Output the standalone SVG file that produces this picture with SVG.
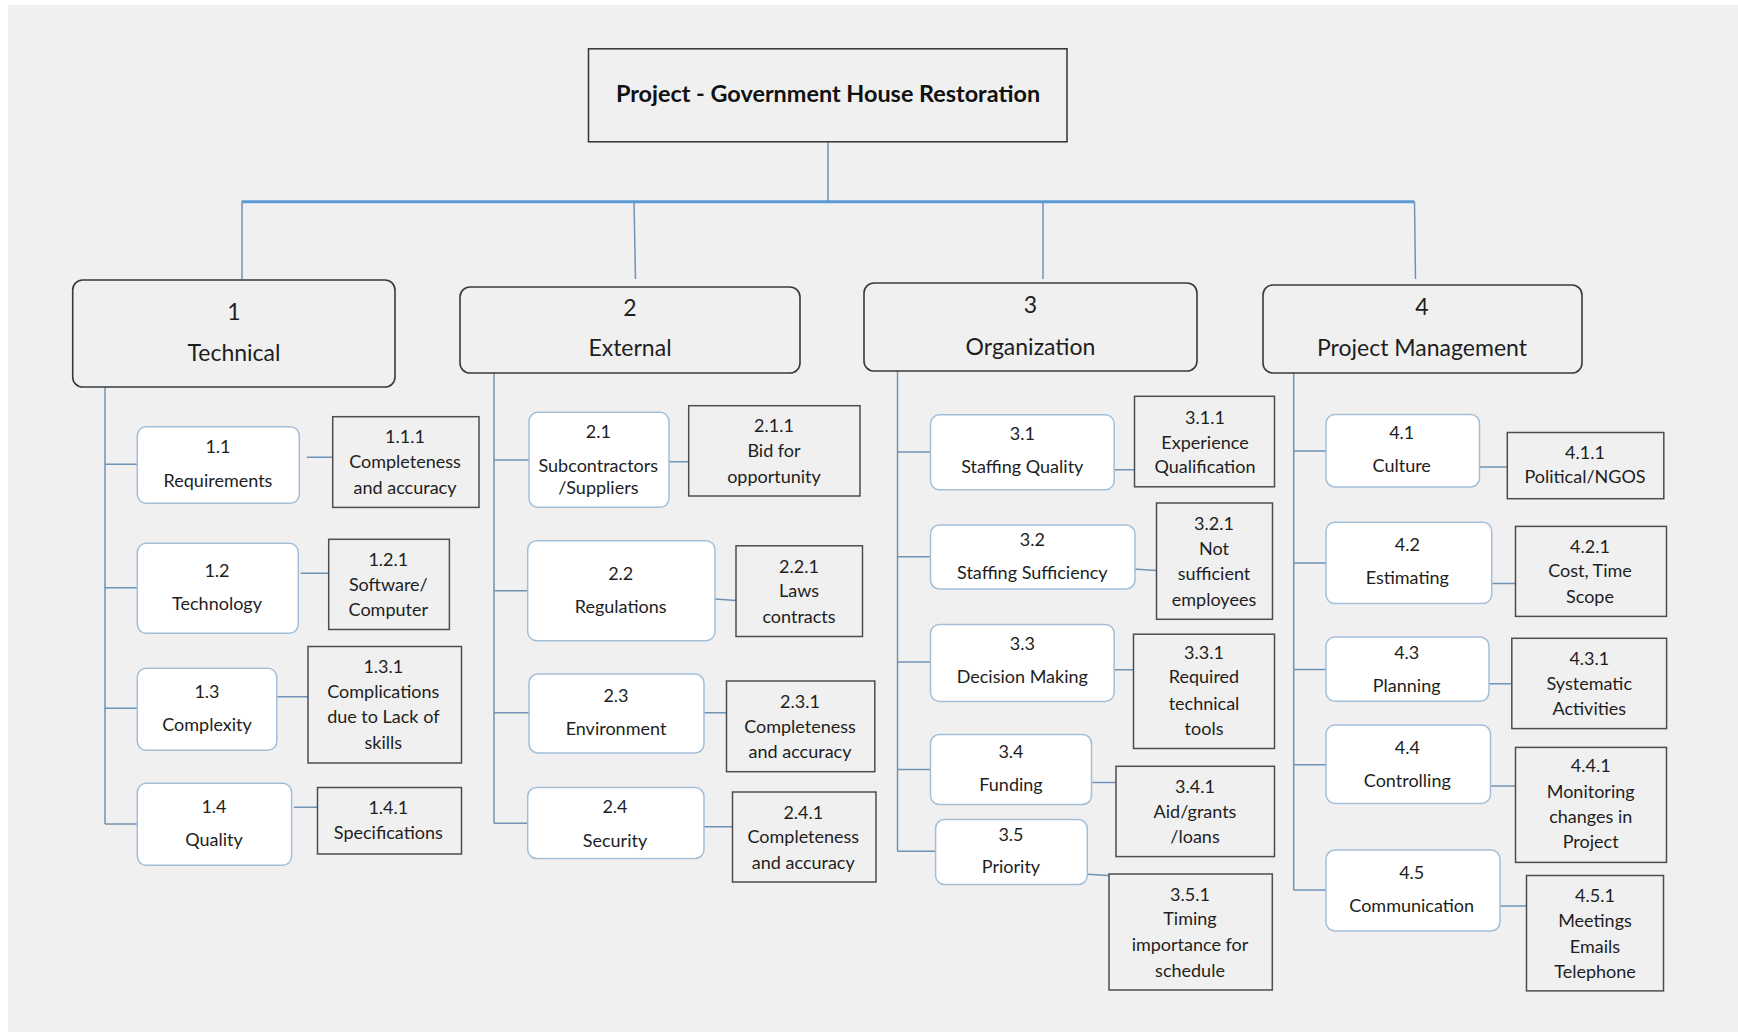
<svg xmlns="http://www.w3.org/2000/svg" width="1738" height="1034" viewBox="0 0 1738 1034">
  <style>
    .sheet { fill: #f0f0f0; }
    .root { fill: #f0f0f0; stroke: #333333; stroke-width: 1.5; }
    .l1 { fill: #f0f0f0; stroke: #3a3a3a; stroke-width: 1.6; }
    .l2 { fill: #ffffff; stroke: #a3bfd8; stroke-width: 1.5; }
    .l3 { fill: #f0f0f0; stroke: #4d4d4d; stroke-width: 1.5; }
    .conn { fill: none; stroke: #6f93b4; stroke-width: 1.5; }
    .bus { fill: none; stroke: #5b9bd5; stroke-width: 3; }
    text { font-family: Lato, "Liberation Sans", sans-serif; fill: #1e1e1e; text-anchor: middle; }
    .title { font-size: 23.4px; font-weight: bold; fill: #111111; }
    .t1 { font-size: 23px; }
    .t2 { font-size: 18px; }
    .t3 { font-size: 18px; }
  </style>

  <rect class="sheet" x="8" y="5" width="1730" height="1027"/>

  <!-- connectors -->
  <g id="connectors">
    <path class="conn" d="M828,142 V201.7"/>
    <path class="bus" d="M241.6,201.7 H1414.5"/>
    <path class="conn" d="M242,201.7 V279"/>
    <path class="conn" d="M634,201.7 L635.5,279"/>
    <path class="conn" d="M1043,201.7 V279"/>
    <path class="conn" d="M1414.5,201.7 L1415.5,279"/>

    <!-- Technical branch -->
    <path class="conn" d="M105,387 V824 M105,464.3 H137.3 M105,587.7 H137.3 M105,708.3 H137.3 M105,824 H137.3"/>
    <path class="conn" d="M306.7,457.3 H333 M300.7,573.3 H328.7 M276.7,696.7 H308 M294,807.3 H317.5"/>

    <!-- External branch -->
    <path class="conn" d="M494,373 V823.3 M494,460 H529 M494,590.7 H527.7 M494,712.7 H529 M494,823.3 H527.7"/>
    <path class="conn" d="M662.7,461.7 H688.7 M715,599 L736,600.5 M704,712.7 H726.5 M704,826.7 H732.5"/>

    <!-- Organization branch -->
    <path class="conn" d="M897.5,371 V851.3 M897.5,452 H930.5 M897.5,556.7 H930.5 M897.5,661.9 H930.5 M897.5,769.5 H930.5 M897.5,851.3 H935.6"/>
    <path class="conn" d="M1115,469.8 H1134.5 M1133.3,569 L1156.5,570.5 M1110,669.8 H1133.5 M1092.3,782.5 H1116 M1087.3,874.3 L1109,875.5"/>

    <!-- Project Management branch -->
    <path class="conn" d="M1293.7,373 V890 M1293.7,451 H1326 M1293.7,563 H1326 M1293.7,669.5 H1326 M1293.7,764.8 H1326 M1293.7,890 H1326"/>
    <path class="conn" d="M1480,467 H1507.3 M1492.3,583.6 H1515.5 M1489,683.7 H1511.8 M1490.7,786.1 H1515.5 M1500,905.9 H1526.5"/>
  </g>

  <!-- root -->
  <g id="root">
    <rect class="root" x="588.5" y="48.8" width="478.5" height="93"/>
    <text class="title" x="828" y="102.4">Project - Government House Restoration</text>
  </g>

  <!-- level 1 -->
  <g id="n1">
    <rect class="l1" x="72.7" y="280" width="322.3" height="107" rx="10"/>
    <text class="t1" x="234" y="320.3">1</text>
    <text class="t1" x="234" y="361.3">Technical</text>
  </g>
  <g id="n2">
    <rect class="l1" x="460" y="287" width="340" height="86" rx="10"/>
    <text class="t1" x="630" y="316.3">2</text>
    <text class="t1" x="630" y="356.3">External</text>
  </g>
  <g id="n3">
    <rect class="l1" x="864" y="283" width="333" height="88" rx="10"/>
    <text class="t1" x="1030.5" y="313.3">3</text>
    <text class="t1" x="1030.5" y="355.3">Organization</text>
  </g>
  <g id="n4">
    <rect class="l1" x="1263" y="285" width="319" height="88" rx="10"/>
    <text class="t1" x="1422" y="315.3">4</text>
    <text class="t1" x="1422" y="356.3">Project Management</text>
  </g>

  <!-- level 2: Technical -->
  <g id="n1-1">
    <rect class="l2" x="137.3" y="426.7" width="162" height="76.6" rx="9"/>
    <text class="t2" x="218" y="453.2">1.1</text>
    <text class="t2" x="218" y="486.5">Requirements</text>
  </g>
  <g id="n1-2">
    <rect class="l2" x="137.3" y="543.3" width="161" height="90" rx="9"/>
    <text class="t2" x="217" y="577.2">1.2</text>
    <text class="t2" x="217" y="609.8">Technology</text>
  </g>
  <g id="n1-3">
    <rect class="l2" x="137.3" y="668.3" width="139.5" height="82" rx="9"/>
    <text class="t2" x="207" y="698.2">1.3</text>
    <text class="t2" x="207" y="730.5">Complexity</text>
  </g>
  <g id="n1-4">
    <rect class="l2" x="137.3" y="783.3" width="154.3" height="82" rx="9"/>
    <text class="t2" x="214" y="812.5">1.4</text>
    <text class="t2" x="214" y="845.8">Quality</text>
  </g>

  <!-- level 2: External -->
  <g id="n2-1">
    <rect class="l2" x="529" y="412.3" width="140" height="95" rx="9"/>
    <text class="t2" x="598.3" y="438.2">2.1</text>
    <text class="t2" x="598.3" y="471.5">Subcontractors</text>
    <text class="t2" x="598.3" y="493.8">/Suppliers</text>
  </g>
  <g id="n2-2">
    <rect class="l2" x="527.7" y="540.7" width="187.3" height="100" rx="9"/>
    <text class="t2" x="620.7" y="579.8">2.2</text>
    <text class="t2" x="620.7" y="613.2">Regulations</text>
  </g>
  <g id="n2-3">
    <rect class="l2" x="529" y="674" width="175" height="79" rx="9"/>
    <text class="t2" x="616" y="701.5">2.3</text>
    <text class="t2" x="616" y="734.8">Environment</text>
  </g>
  <g id="n2-4">
    <rect class="l2" x="527.7" y="787.5" width="176.3" height="71" rx="9"/>
    <text class="t2" x="615" y="813.2">2.4</text>
    <text class="t2" x="615" y="846.5">Security</text>
  </g>

  <!-- level 2: Organization -->
  <g id="n3-1">
    <rect class="l2" x="930.5" y="414.8" width="183.7" height="75" rx="9"/>
    <text class="t2" x="1022.3" y="439.9">3.1</text>
    <text class="t2" x="1022.3" y="472.7">Staffing Quality</text>
  </g>
  <g id="n3-2">
    <rect class="l2" x="930.5" y="525" width="204.5" height="64" rx="9"/>
    <text class="t2" x="1032.3" y="545.9">3.2</text>
    <text class="t2" x="1032.3" y="579.1">Staffing Sufficiency</text>
  </g>
  <g id="n3-3">
    <rect class="l2" x="930.5" y="624.4" width="183.7" height="77" rx="9"/>
    <text class="t2" x="1022.3" y="649.5">3.3</text>
    <text class="t2" x="1022.3" y="683.1">Decision Making</text>
  </g>
  <g id="n3-4">
    <rect class="l2" x="930.5" y="734.5" width="161" height="70" rx="9"/>
    <text class="t2" x="1011" y="758.2">3.4</text>
    <text class="t2" x="1011" y="790.6">Funding</text>
  </g>
  <g id="n3-5">
    <rect class="l2" x="935.6" y="819.5" width="151.7" height="65" rx="9"/>
    <text class="t2" x="1011" y="840.5">3.5</text>
    <text class="t2" x="1011" y="872.9">Priority</text>
  </g>

  <!-- level 2: Project Management -->
  <g id="n4-1">
    <rect class="l2" x="1326" y="414.4" width="153.5" height="72.6" rx="9"/>
    <text class="t2" x="1401.7" y="439.1">4.1</text>
    <text class="t2" x="1401.7" y="471.5">Culture</text>
  </g>
  <g id="n4-2">
    <rect class="l2" x="1326" y="522.2" width="165.7" height="81.4" rx="9"/>
    <text class="t2" x="1407.3" y="550.6">4.2</text>
    <text class="t2" x="1407.3" y="584.2">Estimating</text>
  </g>
  <g id="n4-3">
    <rect class="l2" x="1326" y="637" width="163" height="64.3" rx="9"/>
    <text class="t2" x="1406.7" y="658.5">4.3</text>
    <text class="t2" x="1406.7" y="691.8">Planning</text>
  </g>
  <g id="n4-4">
    <rect class="l2" x="1326" y="725" width="164.5" height="78.4" rx="9"/>
    <text class="t2" x="1407.3" y="754.2">4.4</text>
    <text class="t2" x="1407.3" y="787.1">Controlling</text>
  </g>
  <g id="n4-5">
    <rect class="l2" x="1326" y="850" width="174" height="81" rx="9"/>
    <text class="t2" x="1411.7" y="878.8">4.5</text>
    <text class="t2" x="1411.7" y="911.6">Communication</text>
  </g>

  <!-- level 3: Technical -->
  <g id="n1-1-1">
    <rect class="l3" x="332.7" y="416.7" width="146.3" height="90.7"/>
    <text class="t3" x="405" y="443.2">1.1.1</text>
    <text class="t3" x="405" y="468.2">Completeness</text>
    <text class="t3" x="405" y="493.8">and accuracy</text>
  </g>
  <g id="n1-2-1">
    <rect class="l3" x="328.7" y="539.3" width="120.7" height="90.2"/>
    <text class="t3" x="388.3" y="565.8">1.2.1</text>
    <text class="t3" x="388.3" y="590.5">Software/</text>
    <text class="t3" x="388.3" y="615.8">Computer</text>
  </g>
  <g id="n1-3-1">
    <rect class="l3" x="308" y="646.5" width="153.5" height="116.5"/>
    <text class="t3" x="383.3" y="673.2">1.3.1</text>
    <text class="t3" x="383.3" y="698.2">Complications</text>
    <text class="t3" x="383.3" y="723.2">due to Lack of</text>
    <text class="t3" x="383.3" y="749.2">skills</text>
  </g>
  <g id="n1-4-1">
    <rect class="l3" x="317.5" y="787.5" width="144" height="66.5"/>
    <text class="t3" x="388.3" y="813.8">1.4.1</text>
    <text class="t3" x="388.3" y="838.8">Specifications</text>
  </g>

  <!-- level 3: External -->
  <g id="n2-1-1">
    <rect class="l3" x="688.7" y="405.7" width="171.3" height="90.3"/>
    <text class="t3" x="774" y="432.2">2.1.1</text>
    <text class="t3" x="774" y="456.5">Bid for</text>
    <text class="t3" x="774" y="483.2">opportunity</text>
  </g>
  <g id="n2-2-1">
    <rect class="l3" x="736" y="545.8" width="126.5" height="90.7"/>
    <text class="t3" x="799" y="573.2">2.2.1</text>
    <text class="t3" x="799" y="597.2">Laws</text>
    <text class="t3" x="799" y="623.2">contracts</text>
  </g>
  <g id="n2-3-1">
    <rect class="l3" x="726.5" y="681" width="148.3" height="90.7"/>
    <text class="t3" x="800" y="708.2">2.3.1</text>
    <text class="t3" x="800" y="733.2">Completeness</text>
    <text class="t3" x="800" y="758.2">and accuracy</text>
  </g>
  <g id="n2-4-1">
    <rect class="l3" x="732.5" y="792" width="143.5" height="90"/>
    <text class="t3" x="803.3" y="819.2">2.4.1</text>
    <text class="t3" x="803.3" y="843.2">Completeness</text>
    <text class="t3" x="803.3" y="868.8">and accuracy</text>
  </g>

  <!-- level 3: Organization -->
  <g id="n3-1-1">
    <rect class="l3" x="1134.5" y="396.3" width="140" height="90.5"/>
    <text class="t3" x="1205" y="424.1">3.1.1</text>
    <text class="t3" x="1205" y="448.5">Experience</text>
    <text class="t3" x="1205" y="472.7">Qualification</text>
  </g>
  <g id="n3-2-1">
    <rect class="l3" x="1156.5" y="503" width="116" height="116.3"/>
    <text class="t3" x="1214" y="529.6">3.2.1</text>
    <text class="t3" x="1214" y="554.5">Not</text>
    <text class="t3" x="1214" y="580.3">sufficient</text>
    <text class="t3" x="1214" y="606">employees</text>
  </g>
  <g id="n3-3-1">
    <rect class="l3" x="1133.5" y="634.2" width="141" height="114.3"/>
    <text class="t3" x="1204" y="659.3">3.3.1</text>
    <text class="t3" x="1204" y="683.1">Required</text>
    <text class="t3" x="1204" y="709.5">technical</text>
    <text class="t3" x="1204" y="734.5">tools</text>
  </g>
  <g id="n3-4-1">
    <rect class="l3" x="1116" y="766.3" width="158.5" height="90.3"/>
    <text class="t3" x="1195" y="792.6">3.4.1</text>
    <text class="t3" x="1195" y="817.5">Aid/grants</text>
    <text class="t3" x="1195" y="843.2">/loans</text>
  </g>
  <g id="n3-5-1">
    <rect class="l3" x="1109" y="874" width="163.3" height="116"/>
    <text class="t3" x="1190" y="900.5">3.5.1</text>
    <text class="t3" x="1190" y="925">Timing</text>
    <text class="t3" x="1190" y="950.7">importance for</text>
    <text class="t3" x="1190" y="976.5">schedule</text>
  </g>

  <!-- level 3: Project Management -->
  <g id="n4-1-1">
    <rect class="l3" x="1507.3" y="432.5" width="156.5" height="66.2"/>
    <text class="t3" x="1585" y="458.9">4.1.1</text>
    <text class="t3" x="1585" y="483.4">Political/NGOS</text>
  </g>
  <g id="n4-2-1">
    <rect class="l3" x="1515.5" y="526.4" width="151" height="90"/>
    <text class="t3" x="1590" y="552.6">4.2.1</text>
    <text class="t3" x="1590" y="577.1">Cost, Time</text>
    <text class="t3" x="1590" y="603.2">Scope</text>
  </g>
  <g id="n4-3-1">
    <rect class="l3" x="1511.8" y="638.3" width="154.8" height="90.3"/>
    <text class="t3" x="1589.3" y="665.3">4.3.1</text>
    <text class="t3" x="1589.3" y="689.8">Systematic</text>
    <text class="t3" x="1589.3" y="714.7">Activities</text>
  </g>
  <g id="n4-4-1">
    <rect class="l3" x="1515.5" y="747.4" width="151" height="115"/>
    <text class="t3" x="1590.7" y="772">4.4.1</text>
    <text class="t3" x="1590.7" y="797.7">Monitoring</text>
    <text class="t3" x="1590.7" y="823.4">changes in</text>
    <text class="t3" x="1590.7" y="848.3">Project</text>
  </g>
  <g id="n4-5-1">
    <rect class="l3" x="1526.5" y="875.5" width="137" height="115.4"/>
    <text class="t3" x="1595" y="901.7">4.5.1</text>
    <text class="t3" x="1595" y="927">Meetings</text>
    <text class="t3" x="1595" y="952.7">Emails</text>
    <text class="t3" x="1595" y="977.6">Telephone</text>
  </g>
</svg>
